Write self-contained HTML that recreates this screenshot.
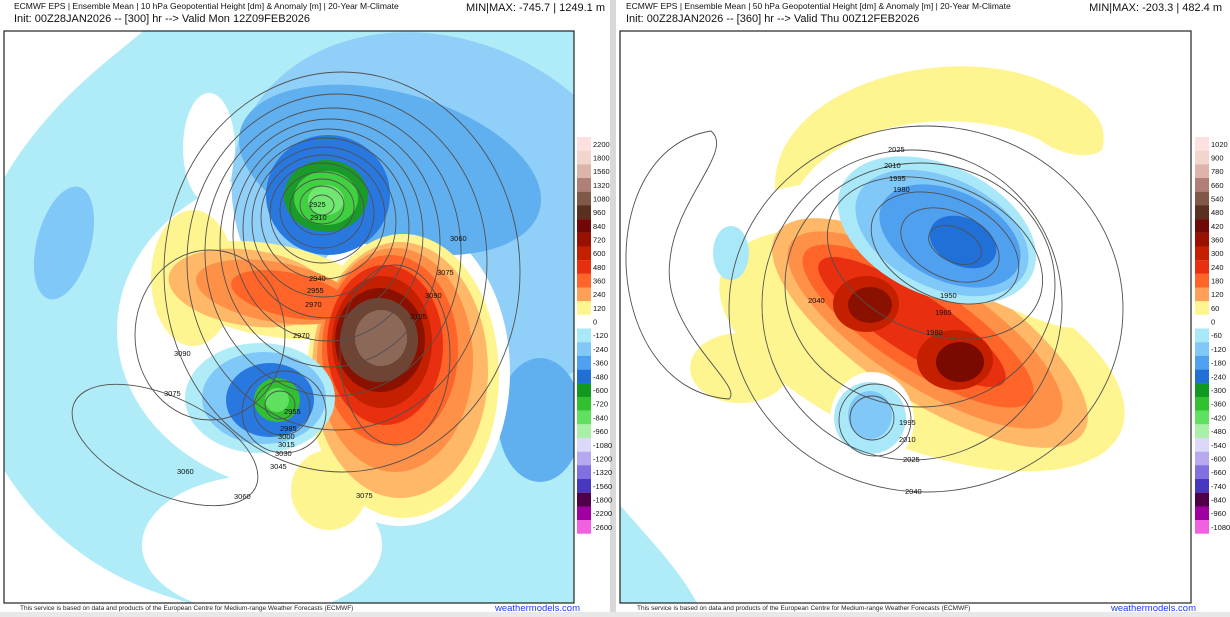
<!DOCTYPE html>
<html><head><meta charset="utf-8"><style>
html,body{margin:0;padding:0;background:#fff;width:1230px;height:617px;overflow:hidden;font-family:"Liberation Sans",sans-serif}
</style></head><body>
<svg width="1230" height="617" viewBox="0 0 1230 617" xmlns="http://www.w3.org/2000/svg" font-family="Liberation Sans, sans-serif">
<defs>
<clipPath id="cL"><rect x="4" y="31" width="570" height="572"/></clipPath>
<clipPath id="cR"><rect x="620" y="31" width="571" height="572"/></clipPath>
<g id="cb">
<rect x="577" y="137" width="14" height="13.8" fill="#fde0e0"/>
<rect x="577" y="150.7" width="14" height="13.8" fill="#f2d6cc"/>
<rect x="577" y="164.4" width="14" height="13.8" fill="#dcb4aa"/>
<rect x="577" y="178" width="14" height="13.8" fill="#b08078"/>
<rect x="577" y="191.7" width="14" height="13.8" fill="#805848"/>
<rect x="577" y="205.4" width="14" height="13.8" fill="#5a3020"/>
<rect x="577" y="219.1" width="14" height="13.8" fill="#700808"/>
<rect x="577" y="232.8" width="14" height="13.8" fill="#9a1000"/>
<rect x="577" y="246.4" width="14" height="13.8" fill="#c42000"/>
<rect x="577" y="260.1" width="14" height="13.8" fill="#e83010"/>
<rect x="577" y="273.8" width="14" height="13.8" fill="#ff6428"/>
<rect x="577" y="287.5" width="14" height="13.8" fill="#ffa058"/>
<rect x="577" y="301.2" width="14" height="13.6" fill="#fff590"/>
<rect x="577" y="328.5" width="14" height="13.8" fill="#a8e8f8"/>
<rect x="577" y="342.2" width="14" height="13.8" fill="#80c8f8"/>
<rect x="577" y="355.9" width="14" height="13.8" fill="#50a0f0"/>
<rect x="577" y="369.6" width="14" height="13.8" fill="#2070d8"/>
<rect x="577" y="383.2" width="14" height="13.8" fill="#109820"/>
<rect x="577" y="396.9" width="14" height="13.8" fill="#30c030"/>
<rect x="577" y="410.6" width="14" height="13.8" fill="#60e060"/>
<rect x="577" y="424.3" width="14" height="13.8" fill="#a8f0a8"/>
<rect x="577" y="438" width="14" height="13.8" fill="#dcd8fa"/>
<rect x="577" y="451.7" width="14" height="13.8" fill="#b8a8f0"/>
<rect x="577" y="465.3" width="14" height="13.8" fill="#8070e0"/>
<rect x="577" y="479" width="14" height="13.8" fill="#4838c0"/>
<rect x="577" y="492.7" width="14" height="13.8" fill="#500048"/>
<rect x="577" y="506.4" width="14" height="13.8" fill="#a000a0"/>
<rect x="577" y="520" width="14" height="13.7" fill="#f060e0"/>
</g>
</defs>
<rect width="1230" height="617" fill="#fff"/>
<rect x="610" y="0" width="6" height="617" fill="#d8d8d8"/>
<rect x="0" y="612" width="1230" height="5" fill="#e8e8e8"/>

<text x="14" y="9" font-size="8.5" fill="#111">ECMWF EPS | Ensemble Mean | 10 hPa Geopotential Height [dm] &amp; Anomaly [m] | 20-Year M-Climate</text>
<text x="14" y="22" font-size="11" fill="#111">Init: 00Z28JAN2026 -- [300] hr --&gt; Valid Mon 12Z09FEB2026</text>
<text x="605" y="11" font-size="11" fill="#111" text-anchor="end">MIN|MAX: -745.7 | 1249.1 m</text>
<text x="626" y="9" font-size="8.5" fill="#111">ECMWF EPS | Ensemble Mean | 50 hPa Geopotential Height [dm] &amp; Anomaly [m] | 20-Year M-Climate</text>
<text x="626" y="22" font-size="11" fill="#111">Init: 00Z28JAN2026 -- [360] hr --&gt; Valid Thu 00Z12FEB2026</text>
<text x="1222" y="11" font-size="11" fill="#111" text-anchor="end">MIN|MAX: -203.3 | 482.4 m</text>

<!-- LEFT MAP -->
<g clip-path="url(#cL)">
<rect x="4" y="31" width="570" height="572" fill="#b0ecf8"/>
<path d="M4,31 L143,31 C 110,60 50,100 4,178 Z" fill="#fff"/>
<path d="M4,470 C 60,560 140,590 190,603 L4,603 Z" fill="#fff"/>
<ellipse cx="262" cy="545" rx="120" ry="70" fill="#fff"/>
<ellipse cx="317" cy="330" rx="200" ry="164" fill="#fff"/>
<ellipse cx="209" cy="148" rx="26" ry="55" fill="#fff"/>
<ellipse cx="64" cy="243" rx="27" ry="58" fill="#80c8f8" transform="rotate(15 64 243)"/>
<ellipse cx="440" cy="215" rx="215" ry="175" fill="#90d0f8" transform="rotate(25 440 215)"/>
<ellipse cx="540" cy="420" rx="42" ry="62" fill="#60b0f0"/>
<ellipse cx="400" cy="372" rx="110" ry="154" fill="#fff"/>
<ellipse cx="390" cy="170" rx="155" ry="78" fill="#60b0f0" transform="rotate(15 390 170)"/>
<ellipse cx="328" cy="195" rx="62" ry="60" fill="#2878e0"/>
<ellipse cx="326" cy="196" rx="42" ry="36" fill="#1a9a28"/>
<ellipse cx="326" cy="198" rx="32" ry="27" fill="#40d040"/>
<ellipse cx="326" cy="200" rx="18" ry="15" fill="#70e870"/>
<!-- warm -->
<ellipse cx="193" cy="278" rx="42" ry="68" fill="#fff590"/>
<ellipse cx="270" cy="290" rx="110" ry="46" fill="#fff590" transform="rotate(10 270 290)"/>
<ellipse cx="403" cy="376" rx="96" ry="142" fill="#fff590"/>
<ellipse cx="329" cy="490" rx="38" ry="40" fill="#fff590"/>
<ellipse cx="400" cy="370" rx="88" ry="128" fill="#ffb868"/>
<ellipse cx="250" cy="288" rx="82" ry="38" fill="#ffb868" transform="rotate(8 250 288)"/>
<ellipse cx="395" cy="360" rx="78" ry="112" fill="#ff9048"/>
<ellipse cx="275" cy="292" rx="80" ry="30" fill="#ff9048" transform="rotate(10 275 292)"/>
<ellipse cx="390" cy="350" rx="68" ry="95" fill="#ff6428"/>
<ellipse cx="290" cy="295" rx="60" ry="22" fill="#ff6428" transform="rotate(12 290 295)"/>
<ellipse cx="385" cy="345" rx="58" ry="80" fill="#e83010"/>
<ellipse cx="382" cy="342" rx="50" ry="66" fill="#c42000"/>
<ellipse cx="380" cy="340" rx="45" ry="52" fill="#8a1000"/>
<ellipse cx="379" cy="340" rx="39" ry="42" fill="#6e4434"/>
<ellipse cx="381" cy="338" rx="26" ry="28" fill="#8c6858"/>
<ellipse cx="260" cy="398" rx="75" ry="55" fill="#b0ecf8"/>
<ellipse cx="264" cy="398" rx="62" ry="46" fill="#80c8f8"/>
<ellipse cx="270" cy="400" rx="44" ry="37" fill="#2878e0"/>
<ellipse cx="277" cy="400" rx="23" ry="22" fill="#30c030"/>
<ellipse cx="277" cy="400" rx="12" ry="12" fill="#60e060"/>
<g fill="none" stroke="#505050" stroke-width="0.9">
<ellipse cx="322" cy="205" rx="12" ry="10"/>
<ellipse cx="322" cy="205" rx="22" ry="19"/>
<ellipse cx="322" cy="207" rx="32" ry="28"/>
<ellipse cx="322" cy="210" rx="42" ry="38"/>
<ellipse cx="322" cy="213" rx="52" ry="50"/>
<ellipse cx="323" cy="217" rx="62" ry="62"/>
<ellipse cx="324" cy="222" rx="72" ry="75"/>
<ellipse cx="326" cy="228" rx="83" ry="90"/>
<ellipse cx="328" cy="235" rx="95" ry="106"/>
<ellipse cx="330" cy="243" rx="110" ry="124"/>
<ellipse cx="333" cy="252" rx="128" ry="144"/>
<ellipse cx="337" cy="262" rx="150" ry="168"/>
<ellipse cx="342" cy="272" rx="178" ry="200"/>
<ellipse cx="280" cy="405" rx="15" ry="14"/>
<ellipse cx="282" cy="408" rx="28" ry="27"/>
<ellipse cx="284" cy="412" rx="42" ry="41"/>
<ellipse cx="210" cy="335" rx="75" ry="85"/>
<ellipse cx="165" cy="445" rx="100" ry="48" transform="rotate(25 165 445)"/>
<ellipse cx="395" cy="355" rx="55" ry="90"/>
</g>
<g font-size="7.5" fill="#111">
<text x="309" y="207">2925</text><text x="310" y="220">2910</text>
<text x="309" y="281">2940</text><text x="307" y="293">2955</text><text x="305" y="307">2970</text>
<text x="293" y="338">2970</text><text x="284" y="414">2955</text><text x="280" y="431">2985</text>
<text x="278" y="439">3000</text><text x="278" y="447">3015</text><text x="275" y="456">3030</text>
<text x="270" y="469">3045</text><text x="450" y="241">3060</text><text x="437" y="275">3075</text>
<text x="425" y="298">3090</text><text x="410" y="319">3105</text><text x="174" y="356">3090</text>
<text x="164" y="396">3075</text><text x="177" y="474">3060</text><text x="234" y="499">3060</text>
<text x="356" y="498">3075</text>
</g>
</g>
<rect x="4" y="31" width="570" height="572" fill="none" stroke="#222" stroke-width="1.2"/>

<!-- RIGHT MAP -->
<g clip-path="url(#cR)">
<path d="M775,190 C 770,90 940,40 1040,80 C 1090,100 1110,120 1102,150 C 1090,160 1060,155 1040,140 C 980,110 850,110 800,185 Z" fill="#fff590"/>
<ellipse cx="922" cy="350" rx="215" ry="98" fill="#fff590" transform="rotate(22 922 350)"/>
<ellipse cx="740" cy="368" rx="50" ry="35" fill="#fff590"/>
<ellipse cx="820" cy="330" rx="60" ry="45" fill="#fff590"/>
<ellipse cx="930" cy="333" rx="183" ry="68" fill="#ffb868" transform="rotate(33 930 333)"/>
<ellipse cx="925" cy="330" rx="160" ry="55" fill="#ff9048" transform="rotate(33 925 330)"/>
<ellipse cx="918" cy="326" rx="135" ry="42" fill="#ff6428" transform="rotate(33 918 326)"/>
<ellipse cx="912" cy="322" rx="110" ry="30" fill="#e83010" transform="rotate(33 912 322)"/>
<ellipse cx="866" cy="304" rx="33" ry="28" fill="#c42000"/>
<ellipse cx="955" cy="360" rx="38" ry="30" fill="#c42000"/>
<ellipse cx="870" cy="305" rx="22" ry="18" fill="#8a1000"/>
<ellipse cx="960" cy="362" rx="24" ry="20" fill="#7a0a00"/>
<ellipse cx="945" cy="255" rx="150" ry="20" fill="#fff" transform="rotate(28 945 255)"/>
<ellipse cx="937" cy="230" rx="105" ry="65" fill="#a8e8f8" transform="rotate(25 937 230)"/>
<ellipse cx="942" cy="233" rx="92" ry="55" fill="#80c8f8" transform="rotate(25 942 233)"/>
<ellipse cx="950" cy="236" rx="75" ry="45" fill="#50a0f0" transform="rotate(25 950 236)"/>
<ellipse cx="963" cy="242" rx="35" ry="24" fill="#2070d8" transform="rotate(25 963 242)"/>
<ellipse cx="872" cy="420" rx="42" ry="48" fill="#fff"/>
<ellipse cx="870" cy="418" rx="36" ry="36" fill="#a8e8f8"/>
<ellipse cx="870" cy="415" rx="22" ry="24" fill="#80c8f8"/>
<ellipse cx="731" cy="253" rx="18" ry="27" fill="#a8e8f8"/>
<path d="M620,505 C 650,540 680,570 697,603 L620,603 Z" fill="#b0ecf8"/>
<g fill="none" stroke="#505050" stroke-width="0.9">
<path d="M711,131 C 590,150 600,390 729,399 C 745,385 660,330 670,260 C 675,200 735,150 711,131 Z"/>
<ellipse cx="955" cy="245" rx="28" ry="17" transform="rotate(25 955 245)"/>
<ellipse cx="950" cy="245" rx="52" ry="33" transform="rotate(25 950 245)"/>
<ellipse cx="945" cy="248" rx="78" ry="50" transform="rotate(25 945 248)"/>
<ellipse cx="935" cy="258" rx="112" ry="75" transform="rotate(22 935 258)"/>
<ellipse cx="920" cy="285" rx="135" ry="122"/>
<ellipse cx="912" cy="305" rx="150" ry="155"/>
<ellipse cx="926" cy="309" rx="197" ry="183"/>
<ellipse cx="872" cy="418" rx="22" ry="22"/>
<ellipse cx="875" cy="420" rx="36" ry="36"/>
</g>
<g font-size="7.5" fill="#111">
<text x="888" y="152">2025</text><text x="884" y="168">2010</text><text x="889" y="181">1995</text>
<text x="893" y="192">1980</text><text x="940" y="298">1950</text><text x="935" y="315">1965</text>
<text x="926" y="335">1980</text><text x="808" y="303">2040</text><text x="899" y="425">1995</text>
<text x="899" y="442">2010</text><text x="903" y="462">2025</text><text x="905" y="494">2040</text>
</g>
</g>
<rect x="620" y="31" width="571" height="572" fill="none" stroke="#222" stroke-width="1.2"/>

<text x="20" y="610" font-size="6.5" fill="#222">This service is based on data and products of the European Centre for Medium-range Weather Forecasts (ECMWF)</text>
<text x="580" y="611" font-size="9.5" fill="#1a3cff" text-anchor="end">weathermodels.com</text>
<text x="637" y="610" font-size="6.5" fill="#222">This service is based on data and products of the European Centre for Medium-range Weather Forecasts (ECMWF)</text>
<text x="1196" y="611" font-size="9.5" fill="#1a3cff" text-anchor="end">weathermodels.com</text>

<use href="#cb"/>
<use href="#cb" x="618"/>
<g font-size="7.5" fill="#111">
<text x="593" y="147">2200</text><text x="593" y="160.5">1800</text><text x="593" y="174">1560</text><text x="593" y="188">1320</text><text x="593" y="201.5">1080</text><text x="593" y="215">960</text><text x="593" y="229">840</text><text x="593" y="242.5">720</text><text x="593" y="256">600</text><text x="593" y="270">480</text><text x="593" y="283.5">360</text><text x="593" y="297">240</text><text x="593" y="311">120</text><text x="593" y="324.5">0</text><text x="593" y="338">-120</text><text x="593" y="352">-240</text><text x="593" y="365.5">-360</text><text x="593" y="379.5">-480</text><text x="593" y="393">-600</text><text x="593" y="406.5">-720</text><text x="593" y="420.5">-840</text><text x="593" y="434">-960</text><text x="593" y="448">-1080</text><text x="593" y="461.5">-1200</text><text x="593" y="475">-1320</text><text x="593" y="489">-1560</text><text x="593" y="502.5">-1800</text><text x="593" y="516">-2200</text><text x="593" y="530">-2600</text>
</g>
<g font-size="7.5" fill="#111">
<text x="1211" y="147">1020</text><text x="1211" y="160.5">900</text><text x="1211" y="174">780</text><text x="1211" y="188">660</text><text x="1211" y="201.5">540</text><text x="1211" y="215">480</text><text x="1211" y="229">420</text><text x="1211" y="242.5">360</text><text x="1211" y="256">300</text><text x="1211" y="270">240</text><text x="1211" y="283.5">180</text><text x="1211" y="297">120</text><text x="1211" y="311">60</text><text x="1211" y="324.5">0</text><text x="1211" y="338">-60</text><text x="1211" y="352">-120</text><text x="1211" y="365.5">-180</text><text x="1211" y="379.5">-240</text><text x="1211" y="393">-300</text><text x="1211" y="406.5">-360</text><text x="1211" y="420.5">-420</text><text x="1211" y="434">-480</text><text x="1211" y="448">-540</text><text x="1211" y="461.5">-600</text><text x="1211" y="475">-660</text><text x="1211" y="489">-740</text><text x="1211" y="502.5">-840</text><text x="1211" y="516">-960</text><text x="1211" y="530">-1080</text>
</g>
</svg>
</body></html>
